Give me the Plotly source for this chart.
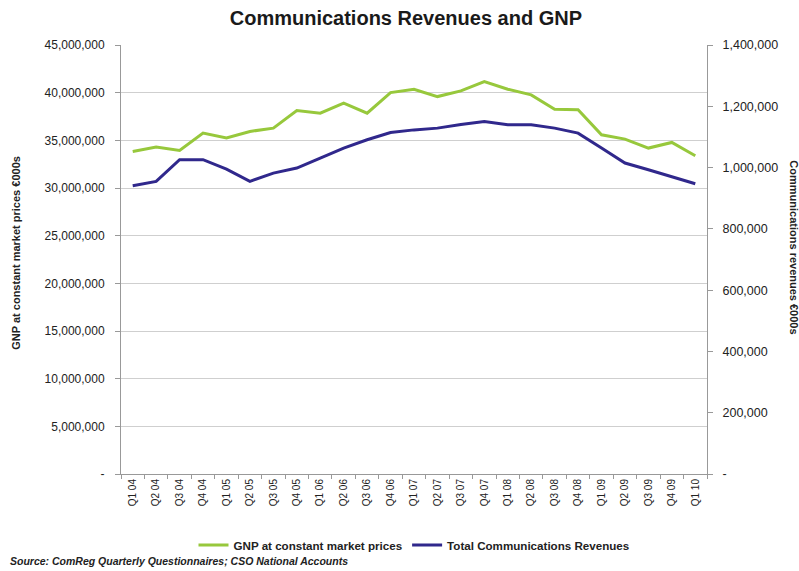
import plotly.graph_objects as go

# Quarters Q1 2004 - Q1 2010
quarters = [
    "Q1 04", "Q2 04", "Q3 04", "Q4 04",
    "Q1 05", "Q2 05", "Q3 05", "Q4 05",
    "Q1 06", "Q2 06", "Q3 06", "Q4 06",
    "Q1 07", "Q2 07", "Q3 07", "Q4 07",
    "Q1 08", "Q2 08", "Q3 08", "Q4 08",
    "Q1 09", "Q2 09", "Q3 09", "Q4 09",
    "Q1 10",
]

# GNP at constant market prices, €000s (left axis)
gnp = [
    33830000, 34290000, 33940000, 35760000,
    35240000, 35930000, 36280000, 38130000,
    37850000, 38900000, 37850000, 40010000,
    40360000, 39590000, 40190000, 41160000,
    40360000, 39770000, 38270000, 38200000,
    35580000, 35130000, 34190000, 34780000,
    33380000,
]

# Total communications revenues, €000s (right axis)
comms = [
    940900, 955000, 1025600, 1025600,
    995000, 955000, 982000, 998500,
    1031000, 1063600, 1090700, 1114500,
    1123000, 1128700, 1140500, 1150300,
    1139500, 1139500, 1128700, 1112400,
    1063600, 1014800, 993000, 971300,
    947400,
]

left_ticks = [0, 5e6, 10e6, 15e6, 20e6, 25e6, 30e6, 35e6, 40e6, 45e6]
left_labels = ["-", "5,000,000", "10,000,000", "15,000,000", "20,000,000",
               "25,000,000", "30,000,000", "35,000,000", "40,000,000", "45,000,000"]
right_ticks = [0, 200000, 400000, 600000, 800000, 1000000, 1200000, 1400000]
right_labels = ["-", "200,000", "400,000", "600,000", "800,000",
                "1,000,000", "1,200,000", "1,400,000"]

GREEN = "#97C83C"
BLUE = "#30288C"
FONT = "Liberation Sans, Arial, sans-serif"

fig = go.Figure()
fig.add_trace(go.Scatter(
    x=quarters, y=gnp, mode="lines", name="<b>GNP at constant market prices</b>",
    line=dict(color=GREEN, width=3), yaxis="y",
))
fig.add_trace(go.Scatter(
    x=quarters, y=comms, mode="lines", name="<b>Total Communications Revenues</b>",
    line=dict(color=BLUE, width=3), yaxis="y2",
))

fig.update_layout(
    width=799, height=571,
    margin=dict(l=121, r=92, t=45, b=96),
    paper_bgcolor="white", plot_bgcolor="white",
    font=dict(family=FONT, size=11, color="#222222"),
    title=dict(text="<b>Communications Revenues and GNP</b>", x=0.508, xanchor="center",
               y=0.968, yanchor="middle", font=dict(size=20, color="#1a1a1a")),
    showlegend=True,
    legend=dict(orientation="h", x=0.5, xanchor="center", y=-0.163, yanchor="middle",
                font=dict(size=11.6, color="#222222"), bgcolor="rgba(0,0,0,0)",
                itemwidth=30, tracegroupgap=0),
    xaxis=dict(
        type="category", range=[-0.5, 24.5], tickangle=-90,
        tickson="boundaries", ticks="outside", ticklen=4, tickcolor="#999999",
        showline=True, linecolor="#999999", linewidth=1, showgrid=False,
        tickfont=dict(size=10, color="#222222"), fixedrange=True,
    ),
    yaxis=dict(
        range=[0, 45e6], tickvals=left_ticks, ticktext=left_labels,
        showgrid=True, gridcolor="#CFCFCF", gridwidth=1,
        showline=True, linecolor="#999999", linewidth=1,
        ticks="outside", ticklen=5, tickcolor="#999999",
        ticklabelstandoff=8, zeroline=False,
        tickfont=dict(size=12, color="#222222"),
    ),
    yaxis2=dict(
        range=[0, 1.4e6], tickvals=right_ticks, ticktext=right_labels,
        overlaying="y", side="right", showgrid=False,
        showline=True, linecolor="#999999", linewidth=1,
        ticks="outside", ticklen=5, tickcolor="#999999",
        ticklabelstandoff=7, zeroline=False,
        tickfont=dict(size=12.5, color="#222222"),
    ),
    annotations=[
        dict(text="<b>GNP at constant market prices €000s</b>", xref="paper", yref="paper",
             x=-0.179, y=0.516, xanchor="center", yanchor="middle", textangle=-90,
             showarrow=False, font=dict(size=11, color="#222222")),
        dict(text="<b>Communications revenues €000s</b>", xref="paper", yref="paper",
             x=1.147, y=0.528, xanchor="center", yanchor="middle", textangle=90,
             showarrow=False, font=dict(size=11, color="#222222")),
        dict(text="<b><i>Source: ComReg Quarterly Questionnaires; CSO National Accounts</i></b>",
             xref="paper", yref="paper", x=-0.193, y=-0.202, xanchor="left", yanchor="middle",
             showarrow=False, font=dict(size=10.5, color="#222222")),
    ],
)

fig.write_html("out.html")
